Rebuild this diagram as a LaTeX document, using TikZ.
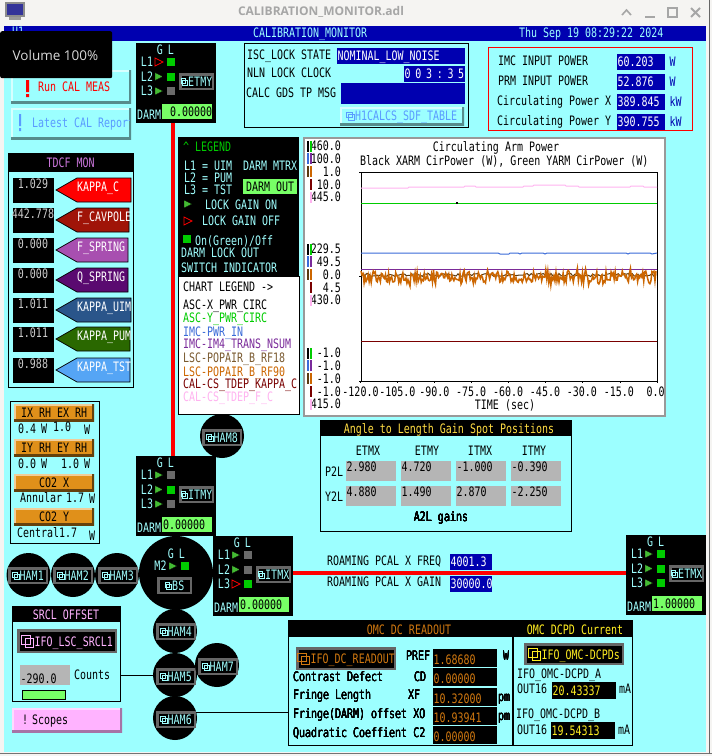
\documentclass[tikz,border=0pt]{standalone}
\usepackage{fontspec}
\newfontfamily\fixedfont[FakeStretch=0.767]{DejaVu Sans Mono}
\newfontfamily\uifont{Open Sans}
\newcommand{\fixedtxt}{\fixedfont\fontsize{13}{13}\selectfont}

\definecolor{scrbg}{HTML}{9CFFFF}
\definecolor{winbg}{HTML}{F5F4F2}
\definecolor{hdrblue}{HTML}{0000B0}
\definecolor{lblcyan}{HTML}{A0FFFF}
\definecolor{lampon}{HTML}{00CC00}
\definecolor{lampoff}{HTML}{6A6A6A}
\definecolor{gaingreen}{HTML}{44BB33}
\definecolor{darmgreen}{HTML}{77FF66}
\definecolor{btnframe}{HTML}{666666}
\definecolor{boxgrey}{HTML}{B5B5B5}
\definecolor{tdcfpink}{HTML}{CC77DD}
\definecolor{srclpink}{HTML}{FFB3FF}
\definecolor{omcorange}{HTML}{D07810}
\definecolor{omcyellow}{HTML}{FFEE22}
\definecolor{a2lyellow}{HTML}{FFDD44}
\definecolor{btnblue}{HTML}{5A9BFF}
\definecolor{rhorange}{HTML}{E0901A}
\definecolor{tracegreen}{HTML}{00CC00}
\definecolor{traceblue}{HTML}{3A6BD8}
\definecolor{tracepurple}{HTML}{7A2A9A}
\definecolor{tracebrown}{HTML}{5A3A10}
\definecolor{tracetan}{HTML}{7A5A30}
\definecolor{traceorange}{HTML}{CC6600}
\definecolor{tracered}{HTML}{7A0000}
\definecolor{tracepink}{HTML}{FFB3F0}
\definecolor{kappac}{HTML}{FF0000}
\definecolor{kappaf}{HTML}{A01408}
\definecolor{kappas}{HTML}{A84FB0}
\definecolor{kappaq}{HTML}{5A0A70}
\definecolor{kappau}{HTML}{2A558A}
\definecolor{kappap}{HTML}{2A6800}
\definecolor{kappat}{HTML}{55A5F5}

\tikzset{
	txt/.style={font=\fixedtxt, inner sep=0pt, text height=9.5pt, text depth=0pt, anchor=west},
	sz/.style 2 args={minimum width=#1pt, minimum height=#2pt},
	panel/.style={fill=black, inner sep=0pt, anchor=north west},
	outlined/.style={draw=black, line width=1pt, inner sep=0pt, anchor=north west},
	navbox/.style={fill=black, draw=btnframe, line width=2.5pt, inner sep=0pt, anchor=north west},
	hamdisc/.style={circle, fill=black, inner sep=0pt, minimum size=44pt},
	lamp/.style={fill=#1, inner sep=0pt, minimum size=8pt},
	gainon/.style={fill=gaingreen},
	gainoff/.style={draw=red, fill=black, line width=0.8pt},
	redbus/.style={draw=red, line width=4pt},
	thinline/.style={draw=black, line width=1pt},
	bevelbtn/.style n args={3}{fill=#1, inner sep=0pt, anchor=north west, font=\fixedtxt,
		path picture={
			\draw[#2,line width=4pt] (path picture bounding box.south west) -- (path picture bounding box.north west) -- (path picture bounding box.north east);
			\draw[#3,line width=4pt] (path picture bounding box.south west) -- (path picture bounding box.south east) -- (path picture bounding box.north east);
		}},
	cyanbtn/.style={bevelbtn={scrbg}{white!60!scrbg}{black!45!scrbg}},
	orangebtn/.style={bevelbtn={rhorange}{rhorange!45!white}{black!55!rhorange}},
}

% [text dy]{name}{x,y}{w}{h}{fill}{colour}{text}
\newcommand{\valbox}[8][0]{
	\node[fill=#6, inner sep=0pt, anchor=north west, sz={#4}{#5}] (#2) at (#3) {};
	\node[txt, #7] (#2txt) at ([xshift=0.5pt,yshift=#1pt]#2.west) {#8};
}
\newcommand{\iconat}[3]{
	\draw[#2, line width=0.8pt] ([xshift=-#3pt,yshift=#3pt*0.45]#1.west) rectangle +(#3*0.66,#3*0.66);
	\draw[#2, line width=0.8pt] ([xshift=-#3pt*0.74,yshift=-#3pt*0.45]#1.west) rectangle +(#3*0.66,-#3*0.66);
}
% [icon size]{name}{x}{y}{w}{h}{colour}{text}
\newcommand{\navlbl}[8][7]{
	\node[navbox, minimum width={(#5-2.5)*1pt}, minimum height={(#6-2.5)*1pt}] (#2) at (#3+1.25,#4+1.25) {};
	\node[txt, #7, anchor=center] (#2txt) at ([xshift=#1pt/2]#2.center) {#8};
	\iconat{#2txt}{#7}{#1}
}
% {name}{x}{y}{value}{value x}{rows}{label}
\newcommand{\suspmon}[7]{
	\node[panel, sz={80}{80}] (#1box) at (#2,#3) {};
	\begin{scope}[shift={(#2,#3)}]
		\node[txt, lblcyan, anchor=center] (#1g) at (24,7) {G};
		\node[txt, lblcyan, anchor=center] (#1l) at (35,7) {L};
		\foreach \ln/\tri/\sq [count=\i] in {#6}
		{
			\pgfmathsetmacro \yy {19+14.5*(\i-1)}
			\node[txt, lblcyan, anchor=center] (#1row\i) at (11,\yy) {\ln};
			\draw[\tri] (19,\yy-4) -- (27,\yy) -- (19,\yy+4) -- cycle;
			\node[lamp=\sq] (#1sq\i) at (35,\yy) {};
		}
		\navlbl{#1btn}{42}{29}{35}{17}{lblcyan}{#7}
		\node[txt, lblcyan] (#1darm) at (1,72) {DARM};
		\node[fill=darmgreen, inner sep=0pt, anchor=north west, sz={50}{15}] (#1gain) at (26,61) {};
		\node[txt] (#1val) at (#5,68.5) {#4};
	\end{scope}
}

\begin{document}
\begin{tikzpicture}[x=1pt,y=-1pt]
	\useasboundingbox (0,0) rectangle (712,756);

	% window
	\fill[winbg] (0,0) rectangle (712,756);
	\fill[scrbg] (4,26) rectangle (706,752);
	\fill[black!55] (0,752.5) rectangle (712,754);
	\fill[black!60] (708.5,0) rectangle (709.5,754);
	\fill[hdrblue] (4,26) rectangle (706,41);
	\fill[black!45] (5,2) rectangle (25,17);
	\fill[blue!50!black!80] (7,4) rectangle (23,15);
	\fill[black!40] (9,17) rectangle (21,20);
	\node[font=\uifont\bfseries\fontsize{12}{12}\selectfont, text=black!35] (wintitle) at (321,12) {CALIBRATION\_MONITOR.adl};
	\draw[black!35, line width=1.6pt] (622,15) -- (626.5,10) -- (631,15);
	\draw[black!35, line width=1.6pt] (645,17) -- (655,17);
	\draw[black!35, line width=1.6pt] (668,8) rectangle (677,17);
	\draw[black!35, line width=1.8pt] (691,8) -- (700,17) (700,8) -- (691,17);
	\node[txt, lblcyan] (scrid) at (12,32) {U1};
	\node[txt, lblcyan] (scrtitle) at (253,33) {CALIBRATION\_MONITOR};
	\node[txt, lblcyan] (scrtime) at (519,33) {Thu Sep 19 08:29:22 2024};

	% script buttons
	\node[cyanbtn, sz={120}{33}] (runbtn) at (11,70) {};
	\node[txt, red] (runtxt) at (38,87) {Run CAL MEAS};
	\fill[red] (26,80) rectangle (29,92) (26,94) rectangle (29,97);
	\node[cyanbtn, sz={120}{31}] (reportbtn) at (11,108) {};
	\begin{scope}
		\clip (11,108) rectangle (129,139);
		\node[txt, btnblue] (reporttxt) at (32,123) {Latest CAL Report};
	\end{scope}
	\fill[btnblue] (19,114) rectangle (21,126) (19,128) rectangle (21,131);

	% suspensions and the two arms
	\suspmon{etmy}{136}{43}{0.00000}{34}{L1/gainoff/lampon,L2/gainon/lampon,L3/gainon/lampoff}{ETMY}
	\suspmon{itmy}{136}{456}{0.00000}{27}{L1/gainon/lampoff,L2/gainon/lampon,L3/gainon/lampoff}{ITMY}
	\suspmon{itmx}{213}{536}{0.00000}{27}{L1/gainon/lampoff,L2/gainon/lampoff,L3/gainoff/lampon}{ITMX}
	\suspmon{etmx}{626}{535}{1.00000}{27}{L1/gainon/lampon,L2/gainon/lampon,L3/gainon/lampon}{ETMX}
	\draw[redbus] ([xshift=-3pt]etmybox.south) -- ([xshift=-3pt]itmybox.north);
	\draw[redbus] ([yshift=3pt]itmxbox.east) -- ([yshift=2pt]etmxbox.west);

	% beam splitter and chambers
	\node[circle, fill=black, inner sep=0pt, minimum size=74pt] (bsdisc) at (176,573) {};
	\node[txt, lblcyan, anchor=center] (bsg) at (171,554) {G};
	\node[txt, lblcyan, anchor=center] (bsl) at (182,554) {L};
	\node[txt, lblcyan, anchor=center] (bsm) at (160.5,566) {M2};
	\draw[gainon] (169,562) -- (177,566) -- (169,570) -- cycle;
	\node[lamp=lampon] (bssq) at (185,566) {};
	\navlbl{bsbtn}{156}{576}{35}{17}{lblcyan}{BS}
	\foreach \nm/\cx/\cy/\bx/\by/\lbl in {ham1/28.5/575/7/566/HAM1,ham2/73/575/52/566/HAM2,ham3/117/575/97/566/HAM3,ham4/175/631/155/622/HAM4,ham5/175/675/155/667/HAM5,ham6/175/718/155/710/HAM6,ham7/217/665/197/657/HAM7,ham8/222/436/201/428/HAM8}
	{
		\node[hamdisc] (\nm) at (\cx,\cy) {};
		\navlbl{\nm btn}{\bx}{\by}{40}{17}{lblcyan}{\lbl}
	}

	% top status
	\node[outlined, sz={224}{84}] (lockbox) at (244,43) {};
	\node[txt] (locka) at (247,55) {ISC\_LOCK STATE};
	\node[txt] (lockb) at (247,73) {NLN LOCK CLOCK};
	\node[txt] (lockc) at (246,93) {CALC GDS TP MSG};
	\valbox{lockstate}{337,48}{128}{16}{hdrblue}{white}{NOMINAL\_LOW\_NOISE}
	\valbox{lockclock}{404,66}{61}{16}{hdrblue}{white}{0\hspace{4.7pt}0\hspace{4.7pt}3\hspace{4.7pt}:\hspace{4.7pt}3\hspace{4.7pt}5}
	\node[fill=hdrblue, inner sep=0pt, anchor=north west, sz={124}{21}] (lockmsg) at (341,83) {};
	\node[cyanbtn, sz={124}{18}] (sdfbtn) at (340,107) {};
	\node[txt, btnblue] (sdftxt) at (355,116) {H1CALCS\_SDF\_TABLE};
	\iconat{sdftxt}{btnblue}{9}

	% input and arm power
	\node[draw=red, line width=1pt, inner sep=0pt, anchor=north west, sz={204}{83}] (powerbox) at (488,47) {};
	\foreach \nm/\lbl/\xx/\yy/\val/\unit in {imc/IMC INPUT POWER/498/54/60.203/W,prm/PRM INPUT POWER/498/74/52.876/W,cirx/Circulating Power X/497/94/389.845/kW,ciry/Circulating Power Y/497/114/390.755/kW}
	{
		\node[txt] (\nm lbl) at (\xx,\yy+7) {\lbl};
		\valbox{\nm val}{617,\yy}{48}{16}{hdrblue}{white}{\val}
		\node[txt, hdrblue] (\nm unit) at (669.5,\yy+7.5) {\unit};
	}

	% calibration factors
	\node[outlined, sz={125}{234}] (tdcfbox) at (8,153) {};
	\node[panel, sz={125}{19}] (tdcfhdr) at (8,153) {};
	\node[txt, tdcfpink, anchor=center] (tdcftitle) at (tdcfhdr.center) {TDCF MON};
	\foreach \nm/\val/\yy/\rt/\col/\lbl in {kc/1.029/178/131/kappac/KAPPA\_C,kf/442.778/208/129/kappaf/F\_CAVPOLE,ks/0.000/238/128/kappas/F\_SPRING,kq/0.000/268/128/kappaq/Q\_SPRING,ku/1.011/298/131/kappau/KAPPA\_UIM,kp/1.011/327/130/kappap/KAPPA\_PUM,kt/0.988/358/130/kappat/KAPPA\_TST}
	{
		\node[panel, sz={41}{25}] (\nm box) at (13,\yy) {};
		\node[txt, black!20, anchor=center] (\nm val) at (33,\yy+6) {\val};
		\draw[fill=\col, draw=black, line width=0.7pt] (\rt,\yy) -- (77,\yy) -- (56,\yy+12) -- (77,\yy+24) -- (\rt,\yy+24) -- cycle;
		\node[txt, white] (\nm lbl) at (77,\yy+8.5) {\lbl};
	}

	% legend
	\node[panel, sz={121}{139}] (legendtop) at (178,137) {};
	\node[outlined, fill=white, sz={121}{138}] (legendlow) at (178,276) {};
	\node[txt, lampon] (lgdtitle) at (183,147) {\textasciicircum{} LEGEND};
	\foreach \nm/\yy/\lbl in {lgda/166/L1 = UIM,lgdb/178/L2 = PUM,lgdc/190/L3 = TST}
		\node[txt, lblcyan] (\nm) at (184,\yy) {\lbl};
	\node[txt, lblcyan] (lgdmtrx) at (243,166) {DARM MTRX};
	\node[fill=darmgreen, inner sep=0pt, anchor=north west, sz={54}{15}, font=\fixedtxt] (lgdout) at (243,179) {DARM OUT};
	\draw[gainon] (184,200) -- (192,204) -- (184,208) -- cycle;
	\node[txt, lblcyan] (lgdon) at (205,205) {LOCK GAIN ON};
	\draw[gainoff] (184,217) -- (192,221) -- (184,225) -- cycle;
	\node[txt, lblcyan] (lgdoff) at (202,221) {LOCK GAIN OFF};
	\node[lamp=lampon] (lgdsq) at (187,239) {};
	\node[txt, lblcyan] (lgdonoff) at (195,241) {On(Green)/Off};
	\node[txt, lblcyan] (lgdlock) at (181,253) {DARM LOCK OUT};
	\node[txt, lblcyan] (lgdswitch) at (181,268) {SWITCH INDICATOR};
	\node[txt] (chartlgd) at (183,287) {CHART LEGEND  ->};
	\foreach \nm/\yy/\col/\lbl in {cha/305/black/ASC-X\_PWR\_CIRC,chb/318/tracegreen/ASC-Y\_PWR\_CIRC,chc/332/traceblue/IMC-PWR\_IN,chd/344/tracepurple/IMC-IM4\_TRANS\_NSUM,che/358/tracetan/LSC-POPAIR\_B\_RF18,chf/372/traceorange/LSC-POPAIR\_B\_RF90,chg/384/tracered/CAL-CS\_TDEP\_KAPPA\_C,chh/397/tracepink/CAL-CS\_TDEP\_F\_C}
		\node[txt, \col] (\nm) at (183,\yy) {\lbl};

	% strip chart
	\node[draw=black!40, line width=2pt, fill=white, inner sep=0pt, anchor=north west, sz={361}{278}] (chartbox) at (303,137) {};
	\node[txt, anchor=center] (charttitle) at (496,147) {Circulating Arm Power};
	\node[txt] (chartsub) at (360,161) {Black XARM CirPower (W), Green YARM CirPower (W)};
	\foreach \base/\vala/\valb/\valc/\vald/\vale in {146/460.0/100.0/1.0/10.0/445.0,249/229.5/49.5/0.0/4.5/430.0,353/-1.0/-1.0/-1.0/-1.0/415.0}
		\foreach \val/\lc/\rc [count=\i] in {\vala/black/tracegreen,\valb/traceblue/tracepurple,\valc/tracebrown/traceorange,\vald/tracered/tracered,\vale/tracepink/tracepink}
		{
			\pgfmathsetmacro \yy {\base+12.75*(\i-1)}
			\node[txt, anchor=east] (ax\base n\i) at (341,\yy) {\val};
			\fill[\rc] (310,\yy-5.5) rectangle (312,\yy+5.5);
			\ifnum\i<4 \fill[\lc] (307,\yy-5.5) rectangle (309,\yy+5.5); \fi
		}
	\foreach \val [count=\i from 0] in {-120.0,-105.0,-90.0,-75.0,-60.0,-45.0,-30.0,-15.0,0.0}
	{
		\node[txt, anchor=center] (tick\i) at ({360.5+\i*36.9},392) {\val};
		\draw[black, line width=0.8pt] ({360.5+\i*37.06},381) -- +(0,2);
	}
	\foreach \yy in {172,276,381}
		\draw[black, line width=0.8pt] (360.5,\yy) -- +(-2,0);
	\node[txt, anchor=center] (timelbl) at (505,405) {TIME (sec)};
	\node[draw=black, line width=0.8pt, inner sep=0pt, anchor=north west, sz={296.5}{209}] (plotbox) at (360.5,172) {};
	\pgfmathsetseed{19}
	\draw[tracepink, line width=1pt] (361,188) -- (408,188) -- (409,187) -- (464,187) -- (465,186) -- (475,186) -- (476,187) -- (523,187) -- (524,186) -- (533,186) -- (534,185) -- (565,185) -- (566,186) -- (578,186) -- (579,187) -- (630,187) -- (631,186) -- (643,186) -- (644,187) -- (657,187);
	\draw[tracegreen, line width=1pt] (361,203) -- (657,203);
	\fill[black] (456,202) rectangle (458,204);
	\draw[traceblue, line width=1pt] (361,253) -- (498,253) -- (500,254) -- (509,254) -- (510,253) -- (518,253) -- (520,254) -- (522,253) -- (543,253) -- (545,254) -- (547,253) -- (626,253) -- (628,254) -- (630,253) -- (650,253) -- (652,254) -- (657,253);
	\draw[tracepurple, line width=1pt] (361,269) -- (657,269);
	\draw[tracebrown, line width=1pt] plot[domain=361:656,samples=150] (\x,{275+1.6*rand});
	\draw[traceorange, line width=1.5pt] plot[domain=361:656,samples=290] (\x,{277+6*rand+7*rand*rand*rand});
	\draw[tracered, line width=1pt] (361,341) -- (657,341);

	% alignment gains
	\node[outlined, sz={251}{111}] (a2lbox) at (320,420) {};
	\node[panel, sz={251}{16}] (a2lhdr) at (320,420) {};
	\node[txt, a2lyellow, anchor=center] (a2ltitle) at (449,429) {Angle to Length Gain Spot Positions};
	\foreach \nm/\cx in {ETMX/368,ETMY/427,ITMX/480,ITMY/534}
		\node[txt, anchor=center] (col\nm) at (\cx,451) {\nm};
	\node[txt] (p2l) at (325,472) {P2L};
	\node[txt] (y2l) at (325,497) {Y2L};
	\foreach \nm/\xx/\yy/\val in {pa/346/461/2.980,pb/401/461/4.720,pc/456/461/-1.000,pd/511/461/-0.390,ya/346/486/4.880,yb/401/486/1.490,yc/456/486/2.870,yd/511/486/-2.250}
		\valbox[4]{\nm}{\xx,\yy}{50}{20}{boxgrey}{black}{\val}
	\node[txt, anchor=center] (a2lgains) at (441,517) {A2L gains};

	% roaming line
	\node[txt] (pcalf) at (327,561) {ROAMING PCAL X FREQ};
	\node[txt] (pcalg) at (327,582) {ROAMING PCAL X GAIN};
	\valbox{pcalfval}{450,554}{42}{16}{hdrblue}{white}{4001.3}
	\valbox{pcalgval}{450,576}{42}{16}{hdrblue}{white}{30000.0}

	% ring heaters and CO2
	\node[outlined, sz={89}{142}] (rhbox) at (10,401) {};
	\foreach \nm/\yy/\lbl in {rhx/404/IX RH EX RH,rhy/439/IY RH EY RH,cox/474/CO2 X,coy/508/CO2 Y}
		\node[orangebtn, sz={80}{17}] (\nm) at (14,\yy) {\lbl};
	\foreach \nm/\xx/\yy/\lbl in {rha/18/429/0.4,rhb/41/429/W,rhc/53/427/1.0,rhd/84/430/W,rhe/18/464/0.0,rhf/41/464/W,rhg/61/464/1.0,rhh/84/464/W,coa/20/498/Annular,cob/66/498/1.7,coc/89/499/W,cod/17/533/Central1.7,coe/89/536/W}
		\node[txt] (\nm) at (\xx,\yy) {\lbl};

	% SRCL
	\node[outlined, sz={108}{95}] (srclbox) at (12,606) {};
	\node[panel, sz={108}{16}] (srclhdr) at (12,606) {};
	\node[txt, srclpink, anchor=center] (srcltitle) at (66,615) {SRCL OFFSET};
	\navlbl[13]{srclbtn}{16}{628}{100}{24}{srclpink}{IFO\_LSC\_SRCL1}
	\valbox[-3.5]{srclval}{20,665}{50}{20}{boxgrey}{black}{-290.0}
	\node[txt] (srclunit) at (74,675) {Counts};
	\node[draw=black, line width=0.7pt, fill=darmgreen, inner sep=0pt, anchor=north west, sz={43}{9}] (srclbar) at (22,690) {};
	\draw[thinline] (srclbox.east |- ham5.west) -- (ham5.west);
	\node[bevelbtn={srclpink}{srclpink!50!white}{black!35!srclpink}, sz={110}{24}] (scopesbtn) at (12,708) {};
	\node[txt] (scopesa) at (22,720) {!};
	\node[txt] (scopesb) at (32,720) {Scopes};

	% OMC DC readout
	\node[outlined, sz={224}{125}] (omcbox) at (288,620) {};
	\node[panel, sz={224}{17}] (omchdr) at (288,620) {};
	\node[txt, omcorange, anchor=center] (omctitle) at (409,630) {OMC DC READOUT};
	\navlbl[13]{omcbtn}{295}{646}{100}{23}{omcorange}{IFO\_DC\_READOUT}
	\draw[thinline] (ham6.15) -- (ham6.15 -| omcbox.west);
	\foreach \nm/\yy/\hh/\val in {pref/649/18/1.68680,cdef/668/18/0.00000,xf/688/18/10.32000,xo/707/18/10.93941,ctwo/726/18/0.00000}
		\valbox[-2]{\nm}{433,\yy}{64}{\hh}{black}{omcorange}{\val}
	\foreach \nm/\xx/\yy/\lbl in {prefl/406/656/PREF,prefu/503/656/W,cdefa/293/677/Contrast Defect,cdefb/414/677/CD,xfa/293/695/Fringe Length,xfb/408/695/XF,xfu/498/697/pm,xoa/293/714/Fringe(DARM) offset XO,xou/498/716/pm,ctwoa/293/733/Quadratic Coeffient C2}
		\node[txt] (\nm) at (\xx,\yy) {\lbl};

	% OMC DCPD
	\node[outlined, sz={119}{125}] (dcpdbox) at (513,620) {};
	\node[panel, sz={119}{17}] (dcpdhdr) at (513,620) {};
	\node[txt, omcyellow, anchor=center] (dcpdtitle) at (575,630) {OMC DCPD Current};
	\navlbl[13]{dcpdbtn}{523}{642}{100}{22}{omcyellow}{IFO\_OMC-DCPDs}
	\node[txt] (dcpda) at (517,674) {IFO\_OMC-DCPD\_A};
	\node[txt] (outa) at (517,689) {OUT16};
	\valbox{dcpdaval}{552,682}{64}{17}{black}{omcyellow}{20.43337}
	\node[txt] (unita) at (619,689) {mA};
	\node[txt] (dcpdb) at (516,714) {IFO\_OMC-DCPD\_B};
	\node[txt] (outb) at (517,730) {OUT16};
	\valbox{dcpdbval}{551,722}{64}{17}{black}{omcyellow}{19.54313}
	\node[txt] (unitb) at (618,730) {mA};

	% volume popup
	\node[fill=black, rounded corners=2pt, inner sep=0pt, anchor=north west, sz={112}{47}] (volpopup) at (0,31) {};
	\node[font=\uifont\fontsize{13.5}{13.5}\selectfont, text=black!15, inner sep=0pt] (voltxt) at (55.5,55) {Volume 100\%};
\end{tikzpicture}
\end{document}
